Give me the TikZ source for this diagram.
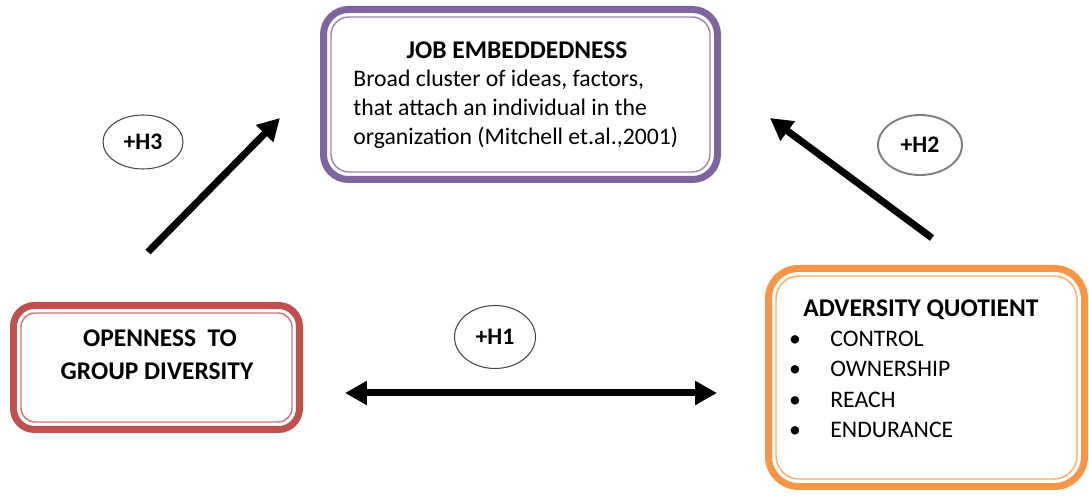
\documentclass[tikz,border=0pt]{standalone}
\usepackage{fontspec}
\setmainfont{Carlito}
\usetikzlibrary{arrows.meta, shapes.geometric, calc}
\definecolor{BoxPurple}{RGB}{128,100,162}
\definecolor{BoxRed}{RGB}{192,80,77}
\definecolor{BoxOrange}{RGB}{247,150,70}
\definecolor{RingGrey}{RGB}{70,70,70}
\tikzset{
  panel/.style={rectangle, draw, line width=0.14cm, fill=white, inner sep=0pt, outer sep=0pt},
  panelin/.style={line width=0.8pt},
  hyp/.style={ellipse, draw=RingGrey, line width=0.6pt, inner sep=0pt,
    font=\fontsize{13.5}{16}\selectfont\bfseries},
  bigarrow/.style={line width=0.14cm, -{Triangle[length=0.44cm,width=0.46cm]}},
  bigboth/.style={line width=0.14cm, {Triangle[length=0.44cm,width=0.46cm]}-{Triangle[length=0.44cm,width=0.46cm]}},
  head/.style={font=\fontsize{14.5}{17}\selectfont\bfseries, inner sep=0pt},
  body/.style={font=\fontsize{13.5}{16.5}\selectfont, inner sep=0pt}
}

\begin{document}
\begin{tikzpicture}[x=0.02cm, y=-0.02cm]
\useasboundingbox (0,0) rectangle (1089,496);

% Boxes
\node[panel, draw=BoxPurple, rounded corners=0.5cm, minimum width=394*0.02cm, minimum height=170*0.02cm] (job) at (520.5,94.5) {};
\node[panel, draw=BoxRed, rounded corners=0.42cm, minimum width=286*0.02cm, minimum height=124*0.02cm] (open) at (156.5,367.5) {};
\node[panel, draw=BoxOrange, rounded corners=0.6cm, minimum width=316*0.02cm, minimum height=218*0.02cm] (aq) at (926.5,377.5) {};

% inner thin lines
\draw[panelin, BoxPurple!80, rounded corners=0.36cm] ([shift={(7.5,7.5)}]job.north west) rectangle ([shift={(-7.5,-7.5)}]job.south east);
\draw[panelin, BoxRed!80, rounded corners=0.28cm] ([shift={(7.5,7.5)}]open.north west) rectangle ([shift={(-7.5,-7.5)}]open.south east);
\draw[panelin, BoxOrange!80, rounded corners=0.46cm] ([shift={(7.5,7.5)}]aq.north west) rectangle ([shift={(-7.5,-7.5)}]aq.south east);

% Job embeddedness text
\node[head, anchor=base] (jobtitle) at (517,59) {JOB EMBEDDEDNESS};
\node[body, anchor=base west] (jobl1) at (353,87) {Broad cluster of ideas, factors,};
\node[body, anchor=base west] (jobl2) at (353,116) {that attach an individual in the};
\node[body, anchor=base west] (jobl3) at (353,145) {organization (Mitchell et.al.,2001)};

% Openness text
\node[head, anchor=base] (opent1) at (160,347) {OPENNESS\ \ TO};
\node[head, anchor=base] (opent2) at (157,380) {GROUP DIVERSITY};

% Adversity quotient text
\node[head, anchor=base west] (aqtitle) at (803,317) {ADVERSITY QUOTIENT};
\foreach \y/\lab/\nm in {347/CONTROL/ctl, 377/OWNERSHIP/own, 408/REACH/rch, 438/ENDURANCE/end}{
  \node[body, anchor=base] (bul\nm) at (795,\y) {•};
  \node[body, anchor=base west] (item\nm) at (830,\y) {\lab};
}

% Hypothesis labels
\node[hyp, minimum width=80*0.02cm, minimum height=54*0.02cm] (h3) at (143,142) {+H3};
\node[hyp, line width=1.1pt, draw=gray, minimum width=84*0.02cm, minimum height=60*0.02cm] (h2) at (920,145) {+H2};
\node[hyp, minimum width=81*0.02cm, minimum height=63*0.02cm] (h1) at (495,337) {+H1};

% Arrows
\coordinate (h3tail) at (148,252);
\coordinate (h3tip) at (280,118);
\coordinate (h2tail) at (932,238);
\coordinate (h2tip) at (770,118);
\coordinate (h1left) at (345,393);
\coordinate (h1right) at (717,393);
\draw[bigarrow] (h3tail) -- (h3tip);
\draw[bigarrow] (h2tail) -- (h2tip);
\draw[bigboth] (h1left) -- (h1right);

\end{tikzpicture}
\end{document}
